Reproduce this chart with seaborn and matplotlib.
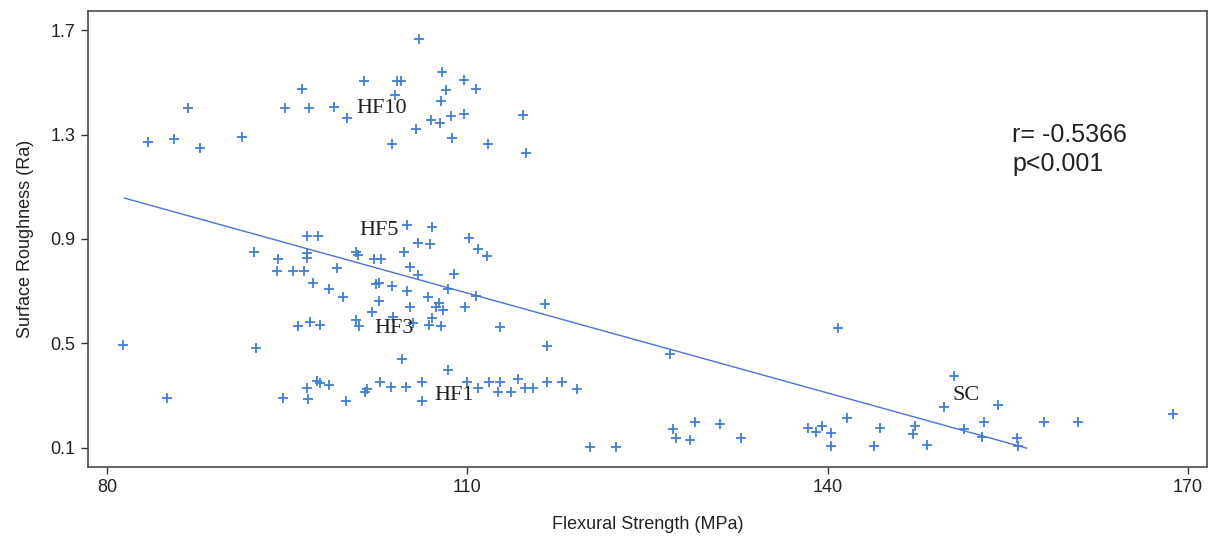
import matplotlib
matplotlib.use("Agg")
import matplotlib.pyplot as plt
import seaborn as sns
import pandas as pd

# ---- data ----
hf10_x = [83.4, 85.6, 86.7, 87.7, 91.2, 94.8, 96.25, 96.8, 98.9, 100.0, 101.4, 104.0, 104.1, 104.5,
          103.7, 105.7, 106.0, 107.9, 108.2, 107.8, 109.7, 110.75, 107.0, 107.75, 108.6, 109.75,
          108.7, 111.7, 114.6, 114.9]
hf10_y = [1.270, 1.282, 1.403, 1.249, 1.290, 1.403, 1.474, 1.403, 1.404, 1.363, 1.506, 1.452, 1.506, 1.506,
          1.262, 1.321, 1.666, 1.538, 1.472, 1.427, 1.507, 1.474, 1.357, 1.344, 1.372, 1.380,
          1.287, 1.265, 1.376, 1.231]

hf53_x = [96.6, 97.55, 92.2, 94.2, 96.6, 96.6, 94.1, 95.5, 96.4, 99.1, 97.1, 98.5, 99.6, 100.7,
          100.9, 102.2, 102.8, 102.4, 102.6, 103.75, 102.6, 102.05, 103.8, 95.9, 96.85, 97.75,
          100.7, 101.0, 105.0, 107.05, 105.9, 106.9, 110.1, 110.9, 111.6, 104.7, 105.2, 105.9,
          108.85, 108.4, 110.7, 116.5, 105.0, 106.7, 107.6, 108.0, 105.25, 107.4, 109.8, 107.05,
          105.5, 106.8, 107.8, 112.7, 104.55]
hf53_y = [0.912, 0.912, 0.850, 0.824, 0.846, 0.827, 0.779, 0.779, 0.779, 0.788, 0.733, 0.708, 0.677, 0.852,
          0.837, 0.823, 0.823, 0.728, 0.731, 0.721, 0.664, 0.622, 0.601, 0.565, 0.582, 0.571,
          0.590, 0.565, 0.954, 0.945, 0.884, 0.882, 0.903, 0.861, 0.833, 0.852, 0.792, 0.763,
          0.767, 0.709, 0.682, 0.652, 0.699, 0.677, 0.654, 0.629, 0.641, 0.641, 0.639, 0.597,
          0.578, 0.571, 0.567, 0.562, 0.441]

hf1_x = [81.3, 92.4, 85.0, 94.6, 96.6, 96.7, 97.5, 97.7, 98.5, 99.9, 101.45, 101.6, 102.7, 103.6,
         104.9, 106.2, 106.2, 108.4, 110.0, 110.9, 111.8, 112.75, 112.55, 113.6, 114.2, 114.8,
         115.5, 116.6, 117.9, 119.1, 116.6, 120.2, 122.4]
hf1_y = [0.493, 0.482, 0.290, 0.293, 0.329, 0.288, 0.358, 0.348, 0.341, 0.281, 0.316, 0.325, 0.354, 0.333,
         0.333, 0.352, 0.281, 0.399, 0.354, 0.331, 0.354, 0.352, 0.313, 0.313, 0.364, 0.331,
         0.331, 0.354, 0.354, 0.326, 0.491, 0.103, 0.103]

sc_x = [126.9, 127.1, 127.4, 128.5, 128.97, 131.0, 132.8, 138.4, 139.0, 139.5, 140.3, 140.3, 141.6,
        140.9, 144.4, 143.9, 147.25, 147.1, 148.3, 149.7, 150.5, 151.4, 153.0, 152.9, 154.2,
        155.75, 155.9, 158.0, 160.9, 168.8]
sc_y = [0.460, 0.172, 0.137, 0.131, 0.201, 0.191, 0.137, 0.175, 0.162, 0.185, 0.156, 0.108, 0.214,
        0.559, 0.175, 0.109, 0.185, 0.154, 0.111, 0.256, 0.377, 0.172, 0.201, 0.143, 0.265,
        0.137, 0.109, 0.201, 0.201, 0.230]

fit_x = [81.4, 156.6]
fit_y = [1.057, 0.099]

group_labels = ["HF10", "HF5", "HF3", "HF1", "SC"]
group_label_x = [102.9, 102.67, 103.86, 108.9, 151.5]
group_label_y = [1.401, 0.931, 0.559, 0.299, 0.299]

x_ticks = [80, 110, 140, 170]
y_ticks = [0.1, 0.5, 0.9, 1.3, 1.7]
stat_text = "r= -0.5366\np<0.001"

# ---- build ----
df = pd.DataFrame({
    "x": hf10_x + hf53_x + hf1_x + sc_x,
    "y": hf10_y + hf53_y + hf1_y + sc_y,
})
fit_df = pd.DataFrame({"x": fit_x, "y": fit_y})

sns.set_theme(style="white")
plt.rcParams["font.family"] = ["Liberation Sans", "DejaVu Sans"]

fig = plt.figure(figsize=(12.14, 5.41), dpi=100)
ax = fig.add_axes([0.0725, 0.1368, 0.9217, 0.8429])

sns.lineplot(data=fit_df, x="x", y="y", ax=ax, color="#4a72d8", linewidth=1.0)
sns.scatterplot(data=df, x="x", y="y", ax=ax, marker="+", color="#3f7fd6",
                s=62, linewidth=1.3)

for lab, lx, ly in zip(group_labels, group_label_x, group_label_y):
    ax.text(lx, ly, lab, ha="center", va="center", fontsize=16,
            family=["Liberation Serif", "DejaVu Serif"], color="#222222")

ax.text(0.826, 0.755, stat_text, transform=ax.transAxes, ha="left", va="top",
        fontsize=18, color="#222222", linespacing=1.3)

ax.set_xlim(78.4, 171.6)
ax.set_ylim(0.027, 1.773)
ax.set_xticks(x_ticks)
ax.set_xticklabels([str(t) for t in x_ticks])
ax.set_yticks(y_ticks)
ax.set_yticklabels([f"{t:.1f}" for t in y_ticks])
ax.tick_params(axis="both", direction="out", length=5, width=1, color="#333333",
               labelsize=13, labelcolor="#222222", pad=4, left=True, bottom=True)

ax.set_xlabel("Flexural Strength (MPa)", fontsize=13, color="#222222", labelpad=14)
ax.set_ylabel("Surface Roughness (Ra)", fontsize=13, color="#222222", labelpad=12)

for side in ["left", "right", "top", "bottom"]:
    ax.spines[side].set_visible(True)
    ax.spines[side].set_color("#4a4a4a")
    ax.spines[side].set_linewidth(1.2)

fig.savefig("out.png", dpi=100)
